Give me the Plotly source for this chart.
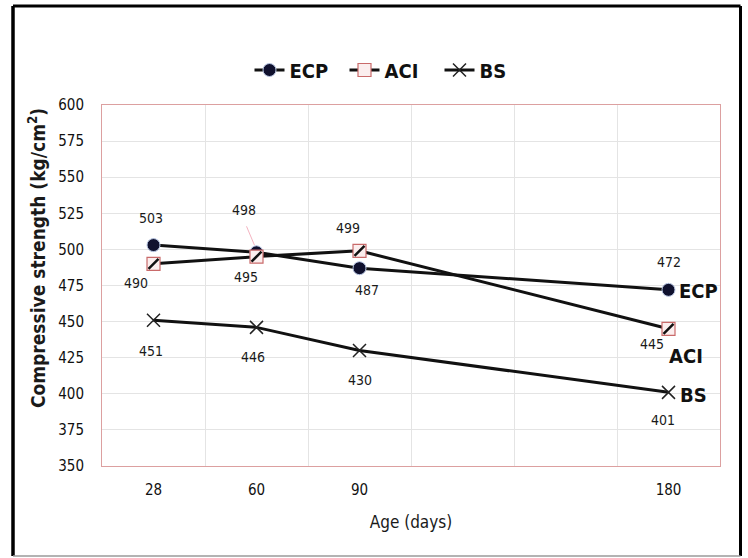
import plotly.graph_objects as go

# ---- data ----
ages = ["28", "60", "90", "180"]
axis_slots = ["28", "60", "90", None, None, "180"]   # category slots on the x axis (two empty)
ecp = [503, 498, 487, 472]
aci = [490, 495, 499, 445]
bs = [451, 446, 430, 401]
y_ticks = [350, 375, 400, 425, 450, 475, 500, 525, 550, 575, 600]

x_idx = [axis_slots.index(a) for a in ages]

FONT = "DejaVu Sans Condensed, Liberation Sans Narrow, Arial Narrow, sans-serif"
W, H = 748, 558
ML, MR, MT, MB = 102, 28, 105, 92
PW, PH = W - ML - MR, H - MT - MB


def px_x(px):
    return (px - ML) / PW


def px_y(py):
    return (H - MB - py) / PH


fig = go.Figure()

fig.add_trace(go.Scatter(
    x=x_idx, y=ecp, name="ECP", mode="lines+markers",
    line=dict(color="#111111", width=3),
    marker=dict(symbol="circle", size=13, color="#10112e",
                line=dict(color="#b9c7e4", width=1)),
))
fig.add_trace(go.Scatter(
    x=x_idx, y=aci, name="ACI", mode="lines+markers",
    line=dict(color="#111111", width=3),
    marker=dict(symbol="square", size=13, color="#fbeeee",
                line=dict(color="#c96a6a", width=1.2)),
))
fig.add_trace(go.Scatter(
    x=x_idx, y=aci, name="ACI hatch", mode="markers", showlegend=False,
    hoverinfo="skip",
    marker=dict(symbol="line-ne", size=10, color="#111111",
                line=dict(color="#111111", width=2.5)),
))
fig.add_trace(go.Scatter(
    x=x_idx, y=bs, name="BS", mode="lines+markers",
    line=dict(color="#111111", width=3),
    marker=dict(symbol="x-thin", size=13, color="#222222",
                line=dict(color="#222222", width=1.5)),
))

# ---- data labels (offsets in pixels) ----
label_font = dict(family=FONT, size=14, color="#1a1a1a")
ecp_off = [(-3, 27), (-13, 42), (7, -22), (0, 28)]
aci_off = [(-18, -19), (-11, -20), (-12, 23), (-17, -15)]
bs_off = [(-3, -31), (-4, -30), (0, -30), (-6, -28)]
for series, offs in ((ecp, ecp_off), (aci, aci_off), (bs, bs_off)):
    for xi, v, (dx, dy) in zip(x_idx, series, offs):
        fig.add_annotation(x=xi, y=v, text=str(v), showarrow=False,
                           xshift=dx, yshift=dy, font=label_font)

# leader line for the 498 label (pixel-sized shape anchored at the data point)
fig.add_shape(type="line", xref="x", yref="y",
              xsizemode="pixel", ysizemode="pixel",
              xanchor=x_idx[1], yanchor=ecp[1],
              x0=-2, y0=7, x1=-10, y1=26,
              line=dict(color="#f0a0b0", width=0.8), layer="above")

# ---- series end labels ----
end_font = dict(family=FONT, size=20, color="#111111")
for name, series, (dx, dy) in (("ECP", ecp, (30, -1)),
                               ("ACI", aci, (17, -27)),
                               ("BS", bs, (25, -3))):
    fig.add_annotation(x=x_idx[-1], y=series[-1], text="<b>%s</b>" % name,
                       showarrow=False, xshift=dx, yshift=dy, font=end_font)

# ---- y axis title (placed like the original, above centre) ----
fig.add_annotation(xref="paper", yref="paper", x=px_x(37), y=px_y(258),
                   xanchor="center", yanchor="middle", textangle=-90,
                   showarrow=False,
                   text="<b>Compressive strength (kg/cm<sup>2</sup>)</b>",
                   font=dict(family=FONT, size=19, color="#1a1a1a"))

# ---- outer frame ----
frame_l, frame_r, frame_t, frame_b = px_x(13), px_x(740.5), px_y(6), px_y(556)
for x0, y0, x1, y1, c, w in (
        (frame_l, frame_b, frame_l, frame_t, "#000000", 3.5),
        (frame_l, frame_t, frame_r, frame_t, "#000000", 3),
        (frame_r, frame_t, frame_r, frame_b, "#000000", 3),
        (frame_l, frame_b, frame_r, frame_b, "#9a9a9a", 1.5)):
    fig.add_shape(type="line", xref="paper", yref="paper", x0=x0, y0=y0,
                  x1=x1, y1=y1, line=dict(color=c, width=w), layer="above")

fig.update_layout(
    width=W, height=H,
    margin=dict(l=ML, r=MR, t=MT, b=MB),
    paper_bgcolor="white", plot_bgcolor="white",
    font=dict(family=FONT, color="#1a1a1a"),
    showlegend=True,
    legend=dict(orientation="h", x=px_x(392), xanchor="center",
                y=px_y(70), yanchor="middle",
                font=dict(family=FONT, size=20, color="#111111", weight="bold"),
                bgcolor="rgba(0,0,0,0)", itemwidth=30, entrywidth=50),
    xaxis=dict(
        range=[-0.5, len(axis_slots) - 0.5],
        tickmode="array", tickvals=x_idx, ticktext=ages,
        showgrid=False, zeroline=False,
        tickfont=dict(family=FONT, size=15, color="#111111"),
        ticks="", ticklabelstandoff=10,
        showline=True, linecolor="#dca0a0", linewidth=1, mirror=True,
        minor=dict(tickmode="array",
                   tickvals=[i + 0.5 for i in range(len(axis_slots) - 1)],
                   showgrid=True, gridcolor="#e4e4e4", gridwidth=1, ticks=""),
        title=dict(text="Age (days)", standoff=18,
                   font=dict(family=FONT, size=17, color="#1a1a1a")),
    ),
    yaxis=dict(
        range=[350, 600], tickmode="array", tickvals=y_ticks,
        showgrid=True, gridcolor="#e4e4e4", gridwidth=1, zeroline=False,
        tickfont=dict(family=FONT, size=15, color="#111111"),
        ticks="", ticklabelstandoff=14,
        showline=True, linecolor="#dca0a0", linewidth=1, mirror=True,
    ),
)

fig.write_html("out.html")
